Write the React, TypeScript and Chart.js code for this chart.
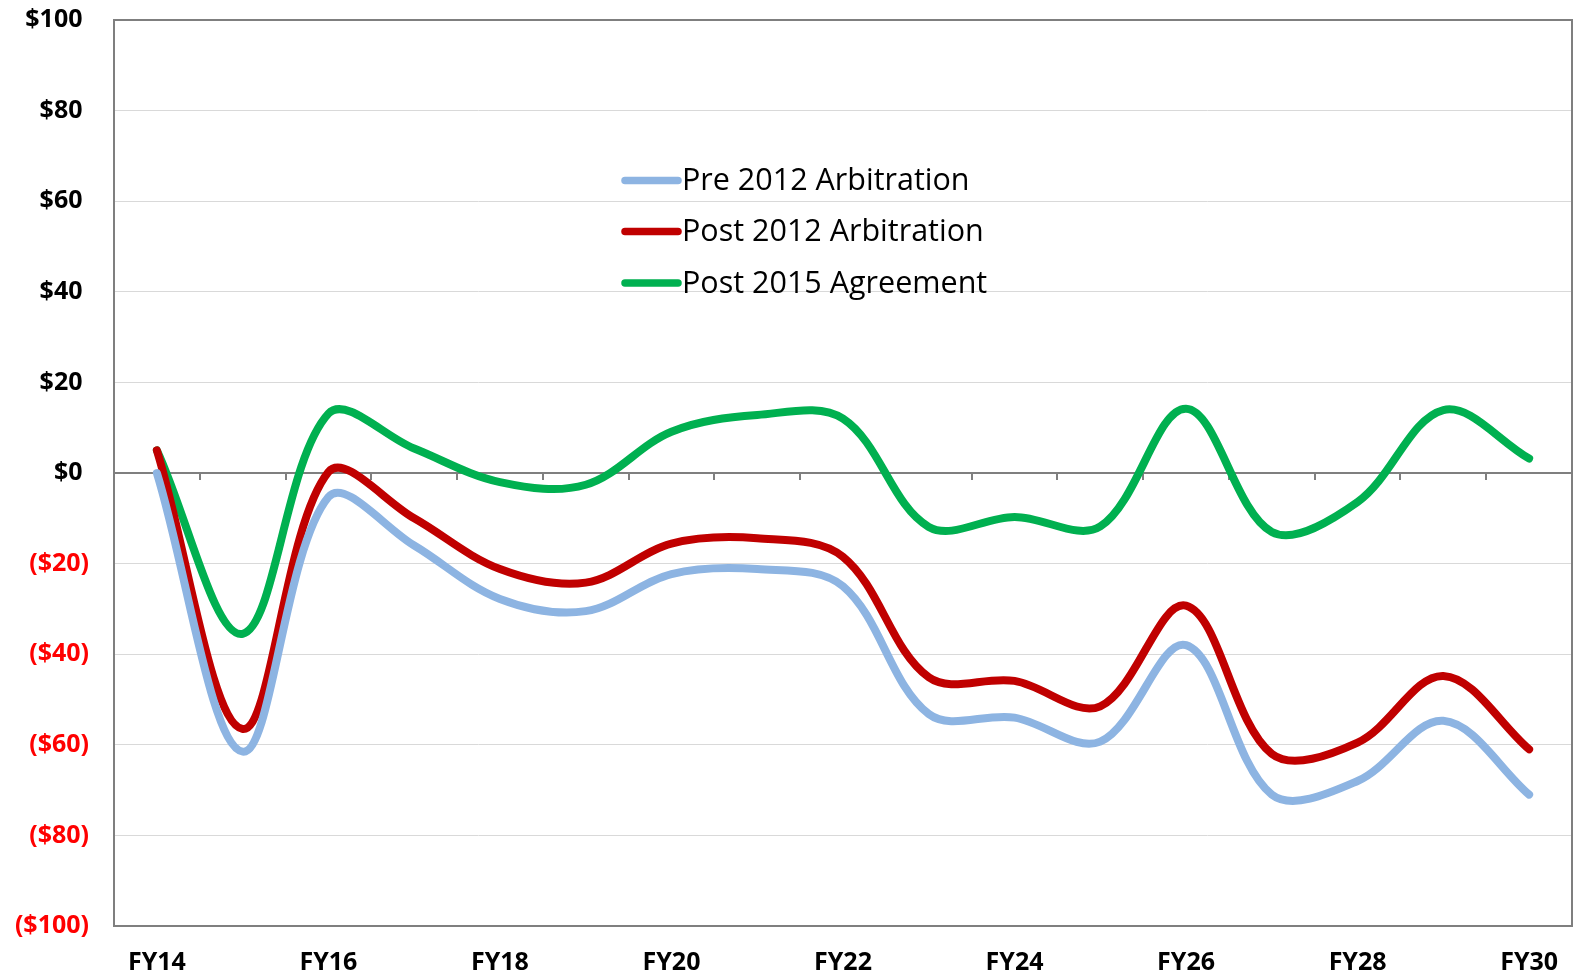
import React, { useEffect, useRef } from "react";
import { Chart, registerables } from "chart.js";

Chart.register(...registerables);

const CATEGORIES = ["FY14", "FY15", "FY16", "FY17", "FY18", "FY19", "FY20", "FY21", "FY22", "FY23", "FY24", "FY25", "FY26", "FY27", "FY28", "FY29", "FY30"];
const SHOWN_X_LABELS = ["FY14", "FY16", "FY18", "FY20", "FY22", "FY24", "FY26", "FY28", "FY30"];

const PRE_2012 = [0, -61.5, -5.3, -16, -27.8, -30.5, -22.3, -21.2, -25, -53.2, -54, -59.3, -38, -71, -68, -54.7, -71];
const POST_2012 = [5, -56.5, 0.2, -10, -21.2, -24.2, -15.6, -14.4, -18.5, -45.1, -45.9, -51.5, -29.3, -62, -59.5, -44.8, -61];
const POST_2015 = [5, -35.5, 13.1, 5.4, -2, -2.6, 9.1, 12.8, 12, -11.9, -9.7, -11.8, 14.2, -13, -6.4, 13.9, 3.2];

const SERIES_NAMES = ["Pre 2012 Arbitration", "Post 2012 Arbitration", "Post 2015 Agreement"];
const SERIES_COLORS = ["#8DB4E2", "#C00000", "#00B050"];

const Y_MIN = -100;
const Y_MAX = 100;
const Y_STEP = 20;

const FONT = "'Open Sans', 'DejaVu Sans', sans-serif";

const framePlugin = {
  id: "frameAndZero",
  beforeDatasetsDraw(chart: any) {
    const { ctx, chartArea, scales } = chart;
    const x = scales.x;
    const y = scales.y;
    const y0 = y.getPixelForValue(0);
    ctx.save();
    ctx.strokeStyle = "#7F7F7F";
    ctx.lineWidth = 2;
    ctx.beginPath();
    ctx.moveTo(chartArea.left, y0);
    ctx.lineTo(chartArea.right, y0);
    ctx.stroke();
    const n = chart.data.labels.length;
    for (let i = 0; i < n - 1; i++) {
      const px = (x.getPixelForValue(i) + x.getPixelForValue(i + 1)) / 2;
      ctx.beginPath();
      ctx.moveTo(Math.round(px), y0);
      ctx.lineTo(Math.round(px), y0 + 7);
      ctx.stroke();
    }
    ctx.strokeRect(chartArea.left, chartArea.top, chartArea.right - chartArea.left, chartArea.bottom - chartArea.top);
    ctx.restore();
  },
};

const legendPlugin = {
  id: "customLegend",
  afterDraw(chart: any) {
    const { ctx } = chart;
    const startX = 622;
    const lineLen = 56;
    const rowY = [180.5, 231.5, 283];
    ctx.save();
    chart.data.datasets.forEach((ds: any, i: number) => {
      const yy = rowY[i];
      ctx.strokeStyle = ds.borderColor;
      ctx.lineWidth = 7.5;
      ctx.lineCap = "round";
      ctx.beginPath();
      ctx.moveTo(startX + 3, yy);
      ctx.lineTo(startX + lineLen, yy);
      ctx.stroke();
      ctx.fillStyle = "#000000";
      ctx.font = `30.5px ${FONT}`;
      ctx.textBaseline = "middle";
      ctx.textAlign = "left";
      ctx.fillText(ds.label, startX + lineLen + 4, yy + 1);
    });
    ctx.restore();
  },
};

export default function App() {
  const canvasRef = useRef<HTMLCanvasElement | null>(null);

  useEffect(() => {
    document.body.style.margin = "0";
    const canvas = canvasRef.current;
    if (!canvas) return;
    const data = [PRE_2012, POST_2012, POST_2015];
    const chart = new Chart(canvas, {
      type: "line",
      data: {
        labels: CATEGORIES,
        datasets: data.map((values, i) => ({
          label: SERIES_NAMES[i],
          data: values,
          borderColor: SERIES_COLORS[i],
          backgroundColor: SERIES_COLORS[i],
          borderWidth: 8,
          borderCapStyle: "round",
          borderJoinStyle: "round",
          pointRadius: 0,
          pointHoverRadius: 0,
          tension: 0.35,
          fill: false,
        })),
      },
      options: {
        responsive: false,
        animation: false,
        devicePixelRatio: 1,
        layout: { padding: { top: 0, right: 2, left: 0, bottom: 0 } },
        plugins: {
          legend: { display: false },
          tooltip: { enabled: false },
        },
        scales: {
          x: {
            type: "category",
            offset: true,
            grid: { display: false, drawTicks: false },
            border: { display: false },
            ticks: {
              autoSkip: false,
              maxRotation: 0,
              padding: 22,
              color: "#000000",
              font: { family: FONT, size: 25, weight: "bold" },
              callback: function (value: any) {
                const lbl = CATEGORIES[value as number];
                return SHOWN_X_LABELS.includes(lbl) ? lbl : "";
              },
            },
            afterFit: (s: any) => {
              s.height = 50;
              s.paddingLeft = 0;
              s.paddingRight = 0;
            },
          },
          y: {
            min: Y_MIN,
            max: Y_MAX,
            grid: { color: "#D9D9D9", lineWidth: 1, drawTicks: false },
            border: { display: false },
            ticks: {
              stepSize: Y_STEP,
              padding: 25,
              font: { family: FONT, size: 25, weight: "bold" },
              color: (c: any) => (c.tick && c.tick.value < 0 ? "#FF0000" : "#000000"),
              callback: (v: any) => (v < 0 ? `($${-v})` : `$${v} `),
            },
            afterFit: (s: any) => {
              s.width = 114;
              s.paddingTop = 20;
              s.paddingBottom = 0;
            },
          },
        },
      },
      plugins: [framePlugin, legendPlugin],
    } as any);
    return () => chart.destroy();
  }, []);

  return (
    <div style={{ width: 1574, height: 976, position: "relative" }}>
      <canvas ref={canvasRef} width={1574} height={976} style={{ display: "block" }} />
    </div>
  );
}
